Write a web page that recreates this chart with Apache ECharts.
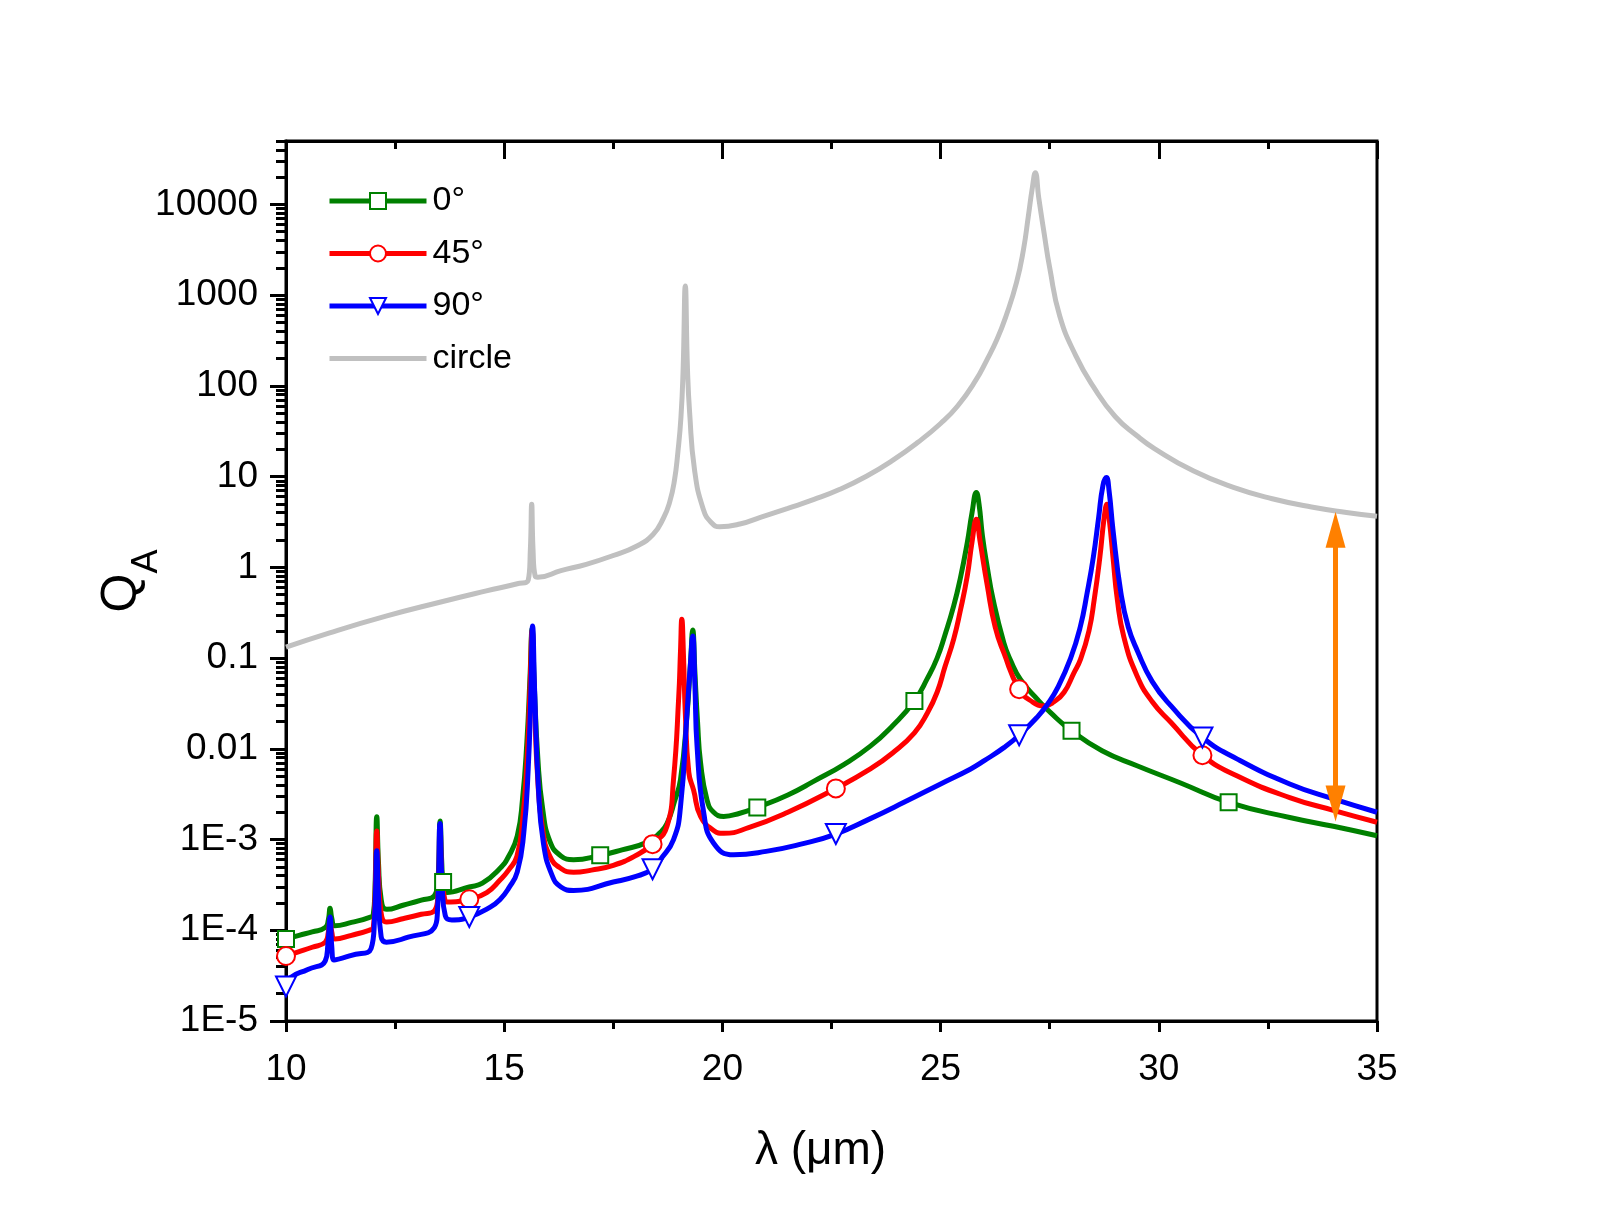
<!DOCTYPE html>
<html>
<head>
<meta charset="utf-8">
<script src="https://cdn.jsdelivr.net/npm/echarts@6/dist/echarts.min.js"></script>
<style>
  html, body { margin: 0; padding: 0; background: #fff; }
  #main { width: 1600px; height: 1225px; }
</style>
</head>
<body>
<div id="main"></div>
<script>
// values: [lambda (um), Q_A]
var green0 = [
  [10.0, 8.0e-5], [10.3, 8.8e-5], [10.6, 9.6e-5], [10.9, 1.07e-4], [10.97, 1.3e-4], [11.01, 1.75e-4],
  [11.05, 1.35e-4], [11.12, 1.12e-4], [11.5, 1.22e-4], [11.9, 1.38e-4], [12.0, 1.5e-4], [12.04, 3.0e-4],
  [12.08, 1.78e-3], [12.12, 5.5e-4], [12.18, 2.2e-4], [12.31, 1.7e-4], [12.7, 1.9e-4], [13.1, 2.15e-4],
  [13.4, 2.4e-4], [13.48, 3.5e-4], [13.53, 1.6e-3], [13.57, 5.5e-4], [13.6, 3.4e-4], [13.69, 2.6e-4],
  [14.2, 3.0e-4], [14.5, 3.3e-4], [14.9, 4.8e-4], [15.1, 6.5e-4], [15.3, 1.1e-3], [15.42, 2.8e-3],
  [15.52, 0.012], [15.59, 0.06], [15.64, 0.21], [15.69, 0.05], [15.77, 0.008], [15.88, 2.2e-3],
  [16.05, 9.5e-4], [16.3, 6.6e-4], [16.59, 6.0e-4], [17.2, 6.7e-4], [17.7, 7.7e-4], [18.27, 9.3e-4],
  [18.58, 1.2e-3], [18.73, 1.5e-3], [18.9, 2.6e-3], [19.04, 4.6e-3], [19.19, 0.024], [19.27, 0.09],
  [19.32, 0.204], [19.37, 0.07], [19.43, 0.02], [19.5, 7e-3], [19.65, 2.7e-3], [19.8, 2.0e-3],
  [20.03, 1.8e-3], [20.4, 1.95e-3], [20.8, 2.26e-3], [21.5, 3.1e-3], [22.1, 4.4e-3], [22.8, 6.8e-3],
  [23.39, 0.0107], [23.9, 0.018], [24.4, 0.0337], [24.7, 0.06], [24.92, 0.1], [25.1, 0.18],
  [25.3, 0.376], [25.45, 0.75], [25.61, 1.86], [25.72, 4.0], [25.82, 6.7], [25.88, 5.0],
  [25.96, 2.2], [26.07, 1.0], [26.2, 0.45], [26.45, 0.147], [26.6, 0.095], [26.83, 0.058],
  [27.22, 0.035], [27.52, 0.025], [28.0, 0.0158], [28.7, 9.5e-3], [29.5, 6.5e-3], [30.5, 4.2e-3],
  [31.6, 2.57e-3], [33.0, 1.75e-3], [34.0, 1.4e-3], [35.0, 1.1e-3]
];
var red45 = [
  [10.0, 5.2e-5], [10.3, 5.8e-5], [10.6, 6.5e-5], [10.9, 7.4e-5], [10.97, 9.5e-5], [11.01, 1.35e-4],
  [11.05, 9.5e-5], [11.12, 8.0e-5], [11.5, 8.8e-5], [11.9, 1.0e-4], [12.0, 1.07e-4], [12.04, 2.3e-4],
  [12.08, 1.24e-3], [12.12, 4.0e-4], [12.18, 1.55e-4], [12.31, 1.23e-4], [12.7, 1.35e-4], [13.1, 1.5e-4],
  [13.4, 1.64e-4], [13.48, 2.4e-4], [13.53, 1.4e-3], [13.57, 4.0e-4], [13.63, 2.3e-4], [13.7, 2.05e-4],
  [14.2, 2.2e-4], [14.6, 2.6e-4], [14.91, 3.6e-4], [15.1, 4.6e-4], [15.29, 6.5e-4], [15.42, 1.6e-3],
  [15.52, 7e-3], [15.59, 0.045], [15.64, 0.2], [15.69, 0.035], [15.77, 4.5e-3], [15.88, 1.3e-3],
  [16.05, 6.5e-4], [16.3, 4.8e-4], [16.59, 4.35e-4], [17.0, 4.6e-4], [17.5, 5.2e-4], [18.0, 6.6e-4],
  [18.4, 8.9e-4], [18.73, 1.4e-3], [18.88, 4.6e-3], [19.0, 0.038], [19.04, 0.12], [19.07, 0.268],
  [19.11, 0.1], [19.15, 0.025], [19.23, 5.5e-3], [19.34, 3.5e-3], [19.5, 1.8e-3], [19.8, 1.26e-3],
  [20.03, 1.17e-3], [20.6, 1.35e-3], [21.5, 2.0e-3], [22.6, 3.66e-3], [23.39, 6.0e-3], [23.9, 9.0e-3],
  [24.4, 0.015], [24.7, 0.025], [24.92, 0.042], [25.1, 0.08], [25.3, 0.162], [25.45, 0.33],
  [25.61, 0.8], [25.72, 1.9], [25.82, 3.39], [25.9, 2.0], [26.07, 0.63], [26.25, 0.22],
  [26.45, 0.114], [26.8, 0.0454], [27.1, 0.033], [27.37, 0.0297], [27.6, 0.033], [27.83, 0.042],
  [28.05, 0.068], [28.21, 0.098], [28.4, 0.2], [28.52, 0.44], [28.65, 1.3], [28.75, 3.6],
  [28.81, 4.95], [28.87, 3.2], [28.95, 1.3], [29.05, 0.44], [29.2, 0.17], [29.5, 0.064],
  [29.85, 0.033], [30.28, 0.0195], [31.0, 8.5e-3], [31.8, 5.0e-3], [33.0, 2.9e-3], [34.0, 2.1e-3],
  [35.0, 1.55e-3]
];
var blue90 = [
  [10.0, 2.4e-5], [10.1, 3.0e-5], [10.5, 3.7e-5], [10.9, 4.6e-5], [10.96, 7e-5], [11.01, 1.4e-4],
  [11.05, 6.5e-5], [11.1, 4.7e-5], [11.5, 5.3e-5], [11.95, 6.3e-5], [12.03, 1.4e-4], [12.08, 7.5e-4],
  [12.12, 2.3e-4], [12.18, 8.5e-5], [12.3, 7.4e-5], [12.8, 8.4e-5], [13.4, 1.07e-4], [13.47, 1.6e-4],
  [13.53, 1.5e-3], [13.58, 3.0e-4], [13.65, 1.45e-4], [13.8, 1.3e-4], [14.2, 1.4e-4], [14.68, 1.8e-4],
  [14.91, 2.2e-4], [15.1, 2.9e-4], [15.3, 4.4e-4], [15.45, 1.2e-3], [15.55, 6e-3], [15.61, 0.04],
  [15.65, 0.226], [15.7, 0.04], [15.78, 4e-3], [15.9, 9e-4], [16.1, 4e-4], [16.3, 3.0e-4],
  [16.59, 2.75e-4], [17.5, 3.4e-4], [18.0, 3.9e-4], [18.4, 4.7e-4], [18.58, 6.0e-4], [18.88, 1.0e-3],
  [19.04, 2.3e-3], [19.19, 0.025], [19.27, 0.09], [19.32, 0.175], [19.37, 0.05], [19.42, 0.0106],
  [19.57, 2.0e-3], [19.8, 9.1e-4], [20.26, 6.8e-4], [21.0, 7.4e-4], [21.8, 8.9e-4], [22.6, 1.15e-3],
  [23.39, 1.7e-3], [24.16, 2.57e-3], [25.0, 4.1e-3], [25.69, 6.0e-3], [26.0, 7.4e-3], [26.45, 0.0103],
  [26.8, 0.0141], [27.22, 0.0225], [27.45, 0.031], [27.68, 0.047], [27.98, 0.1], [28.2, 0.22],
  [28.36, 0.53], [28.5, 1.3], [28.62, 3.5], [28.72, 8.0], [28.8, 9.75], [28.86, 7.0],
  [28.95, 2.6], [29.13, 0.53], [29.3, 0.22], [29.51, 0.12], [29.85, 0.055], [30.28, 0.0297],
  [31.0, 0.0133], [31.8, 7.7e-3], [33.0, 4.1e-3], [34.0, 2.8e-3], [35.0, 2.0e-3]
];
var circle = [
  [10.0, 0.132], [11.0, 0.19], [12.29, 0.29], [13.5, 0.41], [14.59, 0.55], [15.3, 0.66],
  [15.55, 0.72], [15.6, 1.6], [15.63, 4.95], [15.66, 1.6], [15.71, 0.8], [15.77, 0.78],
  [16.3, 0.92], [16.88, 1.08], [17.5, 1.35], [18.03, 1.71], [18.41, 2.3], [18.65, 3.5],
  [18.79, 5.2], [18.9, 9], [18.98, 18.6], [19.05, 45], [19.1, 152], [19.15, 1260],
  [19.2, 152], [19.25, 50], [19.36, 12], [19.56, 4.4], [19.75, 3.1], [19.94, 2.8],
  [20.4, 3.0], [20.87, 3.56], [21.5, 4.47], [22.1, 5.6], [22.68, 7.2], [23.3, 10.1],
  [23.9, 15.1], [24.48, 23.9], [25.0, 38.5], [25.39, 60], [25.8, 114], [26.05, 189],
  [26.29, 324], [26.5, 590], [26.74, 1380], [26.9, 3200], [27.01, 7400], [27.1, 15000],
  [27.17, 22400], [27.25, 11700], [27.37, 4900], [27.5, 2000], [27.73, 590], [28.1, 214],
  [28.5, 98], [29.0, 46], [29.5, 28.2], [29.9, 20.4], [30.8, 11.5], [31.71, 7.6],
  [32.6, 5.7], [33.5, 4.62], [34.3, 4.03], [35.0, 3.65]
];

// where the open markers sit on each curve
var green0Marks = [10, 13.6, 17.2, 20.8, 24.4, 28.0, 31.6];
var red45Marks = [10, 14.2, 18.4, 22.6, 26.8, 31.0];
var blue90Marks = [10, 14.2, 18.4, 22.6, 26.8, 31.0];

var yMajorTicks = [1e-5, 1e-4, 1e-3, 0.01, 0.1, 1, 10, 100, 1000, 10000];
var yTickLabels = ['1E-5', '1E-4', '1E-3', '0.01', '0.1', '1', '10', '100', '1000', '10000'];
var yMin = 1e-5, yMax = 5e4;

// orange double arrow (lambda, top, bottom)
var arrowLambda = 34.05;
var arrowEnds = [2.6, 2.5e-3];

var yMinorTicks = [];
yMajorTicks.forEach(function (m) {
  for (var k = 2; k <= 9; k++) {
    if (k * m <= yMax * 1.0001) yMinorTicks.push(k * m);
  }
});

var font = '"Liberation Sans", Arial, sans-serif';
var black = '#000';
var lineW = 5;

function withMarks(points, marks) {
  return points.map(function (p) {
    if (marks.indexOf(p[0]) >= 0) return p;
    return { value: p, symbol: 'none' };
  });
}

var chart = echarts.init(document.getElementById('main'));
chart.setOption({
  animation: false,
  backgroundColor: '#fff',
  grid: {
    left: 286, right: 223, top: 141, bottom: 204,
    show: true, borderColor: black, borderWidth: 3,
    outerBoundsMode: 'none'
  },
  legend: {
    data: [
      { name: '0°' }, { name: '45°' }, { name: '90°' },
      { name: 'circle', icon: 'path://M0,0H100V5H0Z' }
    ],
    orient: 'vertical',
    left: 322, top: 179,
    itemWidth: 97, itemHeight: 20, itemGap: 18.5,
    selectedMode: false,
    lineStyle: { width: 5 },
    textStyle: { fontSize: 34, color: black, fontFamily: font, padding: [0, 0, 0, 1] }
  },
  xAxis: [
    {
      type: 'value', min: 10, max: 35, interval: 5, position: 'bottom',
      axisLine: { lineStyle: { color: black, width: 3 } },
      axisTick: { length: 11, lineStyle: { color: black, width: 3 } },
      minorTick: { show: true, splitNumber: 2, length: 8, lineStyle: { color: black, width: 3 } },
      splitLine: { show: false },
      axisLabel: { fontSize: 37, color: black, fontFamily: font, margin: 30 },
      name: 'λ (μm)', nameLocation: 'middle', nameGap: 107,
      nameTextStyle: { fontSize: 46, color: black, fontFamily: font, padding: [0, 22, 0, 0] }
    },
    {
      type: 'value', min: 10, max: 35, interval: 5, position: 'top',
      axisLine: { lineStyle: { color: black, width: 3 } },
      axisTick: { inside: true, length: 18, lineStyle: { color: black, width: 3 } },
      minorTick: { show: true, splitNumber: 2, length: 8, lineStyle: { color: black, width: 3 } },
      splitLine: { show: false },
      axisLabel: { show: false }
    }
  ],
  yAxis: [
    {
      type: 'log', logBase: 10, min: yMin, max: yMax, position: 'left',
      axisLine: { show: true, lineStyle: { color: black, width: 3 } },
      axisTick: { customValues: yMajorTicks, length: 16, lineStyle: { color: black, width: 3 } },
      axisLabel: {
        customValues: yMajorTicks, fontSize: 37, color: black, fontFamily: font, margin: 28,
        formatter: function (v) {
          var e = Math.round(Math.log10(v));
          return yTickLabels[e + 5] || '';
        }
      },
      splitLine: { show: false },
      name: '{q|Q}{a|A}', nameLocation: 'middle', nameRotate: 90, nameGap: 121,
      nameMoveOverlap: false,
      nameTextStyle: {
        color: black, fontFamily: font,
        rich: {
          q: { fontSize: 50, fontFamily: font, color: black, padding: [0, 0, 18, 0] },
          a: { fontSize: 36, fontFamily: font, color: black, verticalAlign: 'bottom' }
        }
      }
    },
    {
      type: 'log', logBase: 10, min: yMin, max: yMax, position: 'left',
      axisLine: { show: false },
      axisTick: { customValues: yMinorTicks, length: 10, lineStyle: { color: black, width: 3 } },
      axisLabel: { show: false },
      splitLine: { show: false }
    }
  ],
  series: [
    {
      name: 'circle', type: 'line', data: circle, symbol: 'none', smooth: 0.5,
      lineStyle: { color: '#c0c0c0', width: lineW }, itemStyle: { color: '#c0c0c0' },
      silent: true, emphasis: { disabled: true },
      markLine: {
        silent: true, animation: false,
        symbol: ['triangle', 'triangle'], symbolSize: [20, 36],
        lineStyle: { color: '#ff8000', width: 5, type: 'solid' },
        itemStyle: { color: '#ff8000' },
        label: { show: false },
        emphasis: { disabled: true },
        data: [[{ coord: [arrowLambda, arrowEnds[0]] }, { coord: [arrowLambda, arrowEnds[1]] }]]
      }
    },
    {
      name: '0°', type: 'line', data: withMarks(green0, green0Marks), smooth: 0.5,
      symbol: 'emptyRect', symbolSize: 16,
      lineStyle: { color: '#008000', width: lineW }, itemStyle: { color: '#008000', borderWidth: 2 },
      silent: true, emphasis: { disabled: true }
    },
    {
      name: '45°', type: 'line', data: withMarks(red45, red45Marks), smooth: 0.5,
      symbol: 'emptyCircle', symbolSize: 18,
      lineStyle: { color: '#ff0000', width: lineW }, itemStyle: { color: '#ff0000', borderWidth: 2 },
      silent: true, emphasis: { disabled: true }
    },
    {
      name: '90°', type: 'line', data: withMarks(blue90, blue90Marks), smooth: 0.5,
      symbol: 'emptyTriangle', symbolSize: 20, symbolRotate: 180,
      lineStyle: { color: '#0000ff', width: lineW }, itemStyle: { color: '#0000ff', borderWidth: 2 },
      silent: true, emphasis: { disabled: true }
    }
  ]
});
</script>
</body>
</html>
